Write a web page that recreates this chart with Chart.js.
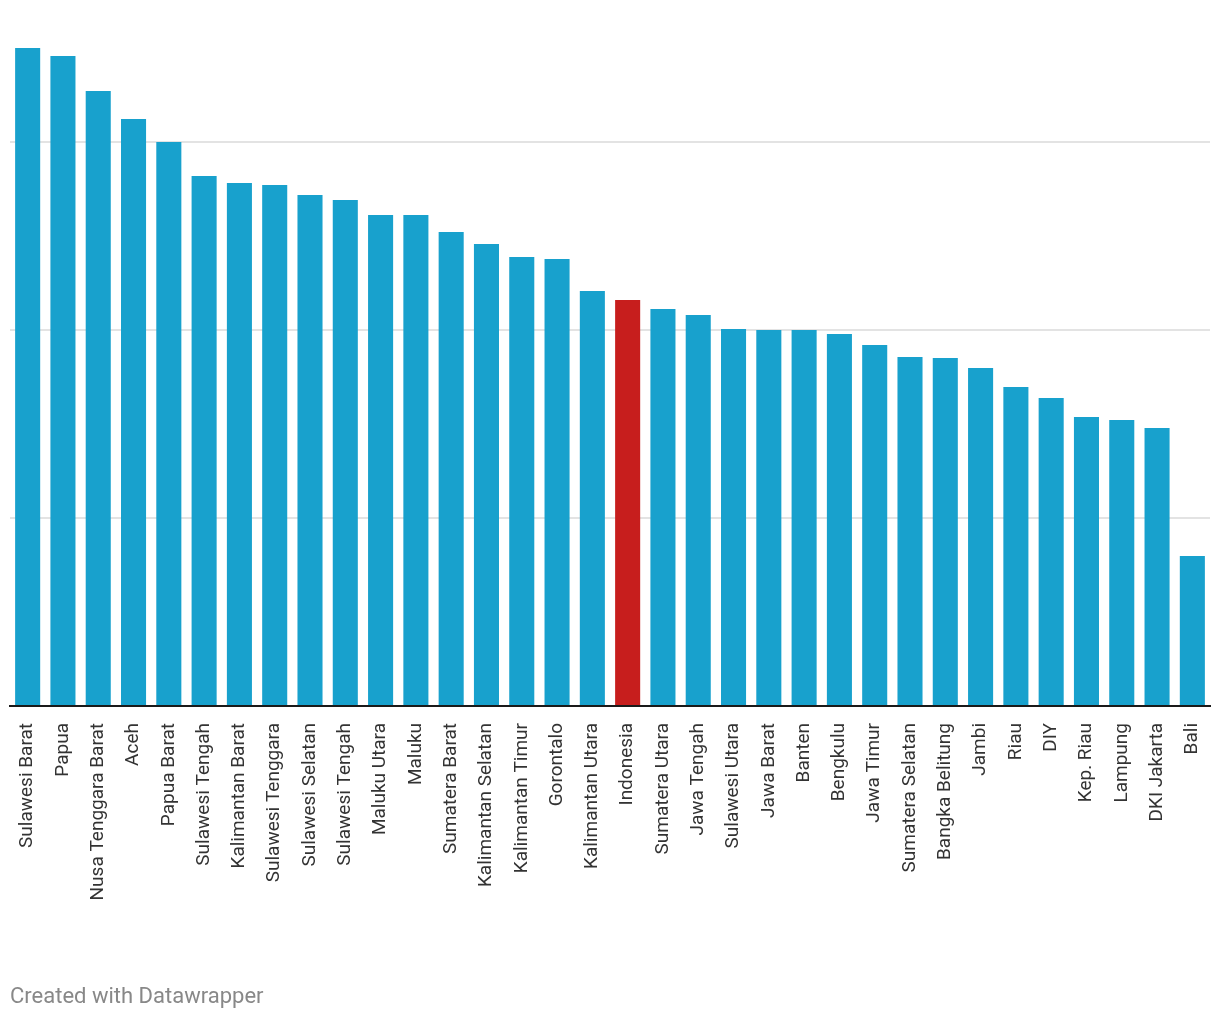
<!DOCTYPE html>
<html>
<head>
<meta charset="utf-8">
<script src="https://cdn.jsdelivr.net/npm/chart.js@4/dist/chart.umd.min.js"></script>
<style>
  html, body { margin: 0; padding: 0; background: #fff; overflow: hidden; }
  #wrap { position: relative; width: 1220px; height: 1020px; }
  canvas { display: block; }
  #footer { position: absolute; left: 10px; top: 983px; font-family: Roboto, sans-serif; font-size: 22px; color: #888; }
</style>
</head>
<body>
<div id="wrap">
  <canvas id="c" width="1220" height="1020"></canvas>
  <div id="footer">Created with Datawrapper</div>
</div>
<script>
const categories = ["Sulawesi Barat","Papua","Nusa Tenggara Barat","Aceh","Papua Barat","Sulawesi Tengah","Kalimantan Barat","Sulawesi Tenggara","Sulawesi Selatan","Sulawesi Tengah","Maluku Utara","Maluku","Sumatera Barat","Kalimantan Selatan","Kalimantan Timur","Gorontalo","Kalimantan Utara","Indonesia","Sumatera Utara","Jawa Tengah","Sulawesi Utara","Jawa Barat","Banten","Bengkulu","Jawa Timur","Sumatera Selatan","Bangka Belitung","Jambi","Riau","DIY","Kep. Riau","Lampung","DKI Jakarta","Bali"];
const values = [3.50,3.457,3.271,3.122,3.00,2.819,2.782,2.771,2.718,2.691,2.612,2.612,2.521,2.457,2.388,2.378,2.207,2.160,2.112,2.080,2.005,2.00,2.00,1.979,1.920,1.856,1.851,1.798,1.697,1.638,1.537,1.521,1.479,0.798];
const gridTicks = [0,1,2,3];
const highlight = "Indonesia";

const colors = categories.map(c => c === highlight ? "#c71e1d" : "#18a1cd");

new Chart(document.getElementById("c"), {
  type: "bar",
  data: {
    labels: categories,
    datasets: [{ data: values, backgroundColor: colors, barPercentage: 0.71, categoryPercentage: 1.0, borderWidth: 0 }]
  },
  options: {
    responsive: false,
    animation: false,
    layout: { padding: { left: 10, right: 10, top: 48, bottom: 0 } },
    plugins: { legend: { display: false }, tooltip: { enabled: false } },
    scales: {
      x: {
        grid: { display: false, drawTicks: false },
        border: { display: true, color: "#1a1a1a", width: 2 },
        ticks: { minRotation: 90, maxRotation: 90, autoSkip: false, padding: 17, color: "#333", font: { family: "Roboto", size: 19 } },
        afterFit: s => { s.height = 314; s.paddingLeft = 0; s.paddingRight = 0; }
      },
      y: {
        min: 0, max: 3.5,
        border: { display: false },
        grid: { color: "#e3e3e3", lineWidth: 2, drawTicks: false },
        ticks: { display: false },
        afterBuildTicks: s => { s.ticks = gridTicks.map(v => ({ value: v })); },
        afterFit: s => { s.width = 0; }
      }
    }
  }
});
</script>
</body>
</html>
